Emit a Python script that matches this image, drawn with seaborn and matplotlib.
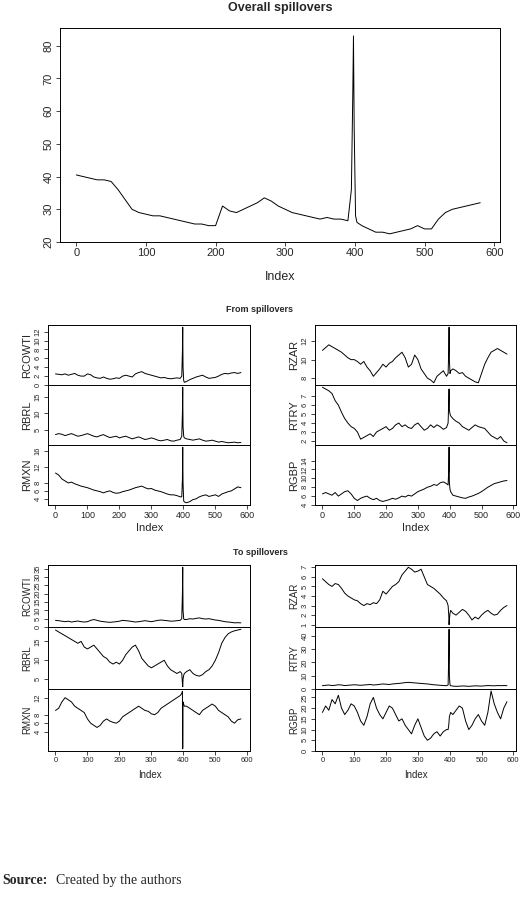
import matplotlib
matplotlib.use("Agg")
import matplotlib.pyplot as plt
import seaborn as sns
import pandas as pd

sns.set_style("white")
plt.rcParams['font.family'] = ['Liberation Sans', 'DejaVu Sans']

X = list(range(0, 400, 10)) + [395, 397, 398, 399, 401, 403] + list(range(410, 590, 10))

overall = [40.5,40,39.5,39,39,38.5,36,33,30,29,28.5,28,28,27.5,27,26.5,26,25.5,25.5,25,25,31,29.5,29,30,31,32,33.5,32.5,31,30,29,28.5,28,27.5,27,27.5,27,27,26.5,
           36,65,83,55,28,26,
           25,24,23,23,22.5,23,23.5,24,25,24,24,27,29,30,30.5,31,31.5,32]

from_rcowti = [2.5,2.4,2.3,2.5,2.2,2.4,2.6,2.2,2,2,2.5,2.3,1.8,1.6,1.5,1.8,1.5,1.3,1.4,1.6,1.5,2,2.2,2,1.8,2.5,2.8,3,2.6,2.4,2.2,2,1.8,1.6,1.7,1.5,1.4,1.5,1.6,1.5,
               2,7.5,13,4,1,0.6,
               0.8,1.2,1.5,1.8,2,2.2,1.8,1.5,1.6,1.7,2,2.4,2.6,2.5,2.7,2.8,2.6,2.8]
from_rbrl = [3.5,3.8,3.6,3.2,3.5,3.8,3.4,3,3.2,3.5,3.8,3.4,3,2.8,3.2,3.5,3,2.6,2.8,3,2.5,2.8,3,2.6,2.2,2.5,2.8,2.4,2,2.2,2.5,2.2,1.8,1.6,1.8,2,1.6,1.5,1.8,2,
             3,10,18,6,3,2.5,
             2.2,2,1.8,2,2.2,1.8,1.5,1.6,1.8,1.5,1.2,1.4,1.2,1,1.1,1.2,1,1.1]
from_rmxn = [10.5,10,9,8.5,8,8.2,7.8,7.5,7.2,7,6.8,6.5,6.2,6,5.8,5.5,5.8,6,5.6,5.4,5.5,5.8,6,6.2,6.5,6.8,7,7.2,6.8,6.5,6.6,6.2,6,5.8,5.5,5.2,5,5,4.8,4.5,
             4.5,9,17,8,3.5,3.2,
             3,3.3,3.8,4,4.5,4.8,5,4.6,4.8,5,4.6,5.2,5.5,5.8,6,6.5,7,6.8]
from_rzar = [11,11.3,11.6,11.4,11.2,11,10.8,10.5,10.2,10,10,9.8,9.5,9.8,9.2,8.8,8.2,8.6,9,9.5,9.2,9.6,9.8,10.2,10.5,10.8,10.2,9.2,9.5,10.5,10,9,8.5,8,7.8,7.5,8.2,8.5,8.8,8.2,
             8.5,11,13.5,10,8.5,8.8,
             9,8.8,8.5,8.6,8.2,8,7.8,7.6,7.5,8.5,9.5,10.2,10.8,11,11.2,11,10.8,10.6]
from_rtry = [8,7.8,7.6,7.3,6.5,6,5.2,4.5,4,3.6,3.4,3,2.2,2.4,2.6,2.8,2.5,3,3.2,3.4,3.6,3.2,3.4,3.8,4,3.6,3.8,3.5,3.4,3.8,4,3.6,3.2,3.4,3.8,3.5,3.8,3.6,3.3,3.5,
             4,6.5,7.8,5.5,5,4.8,
             4.5,4.2,4,3.6,3.4,3.2,3.5,3.8,3.6,3.5,3.4,3,2.6,2.4,2.2,2.5,2,1.8]
from_rgbp = [6.5,6.8,6.5,6.2,6.8,6,6.5,7,7.2,6.5,5.5,5,5.5,5.8,6,5.5,5.2,5.5,5,4.8,5,5.2,5.5,5.3,5.6,6,5.8,6.2,6,6.5,7,7.3,7.6,8,8.2,8.6,8.4,9,9.2,8.8,
             8.5,12,17,9,7.5,7,
             6.2,6,5.8,5.6,5.5,5.8,6,6.3,6.6,7,7.5,8,8.4,8.8,9,9.2,9.4,9.5]

to_rcowti = [4,3.8,3.5,3.2,3.5,3,3.3,3.6,3.2,3,3.2,4,4.5,4,3.5,3.2,3,2.8,3,3.2,3.5,4,3.8,3.6,3.3,3,3.2,3.5,3.8,3.5,3.2,3.6,4,4.2,4,3.8,3.5,3.6,3.8,4,
             5,20,36,10,5,4.5,
             4.5,5,4.8,5.2,5.5,5,4.8,5,4.6,4.2,4,3.6,3.2,3,2.8,2.5,2.6,2.5]
to_rbrl = [18,17.5,17,16.5,16,15.5,15,14.5,15,13.5,13,13.5,14,13,12,11,10.5,9.5,9,9.5,9,10,11.5,12.5,13.5,14,12.5,10.5,9.5,8.5,8,8.5,9,9.5,10,8.5,7.5,7,6.5,7,
           6.5,4,3,5,6,6.5,
           7,7.5,6.5,6,5.8,6.2,7,7.5,8.5,10,12,14.5,16,17,17.5,17.8,18,18.2]
to_rmxn = [9,9.5,11,12,11.5,11,10,9.5,9,8.5,7,6,5.5,5,5.5,6.5,7,6.5,6.2,6,6.5,7.5,8,8.5,9,9.5,10,9.5,9,8.8,8.2,8,8.5,9.5,10,10.5,11,11.5,12,12.5,
           13,13.5,0,11,10.5,10,
           10,9.5,9,8.5,8,9,9.5,10,10.5,10,9,8.5,8,7.5,6.5,6,6.8,7]
to_rzar = [5.8,5.5,5.2,5,5.3,5.2,4.8,4.3,4,3.8,3.6,3.5,3.2,3,3.2,3.1,3.3,3.2,3.6,4.5,4.2,4.6,5,5.2,5.5,6.2,6.6,7,6.8,6.5,6.6,6.8,6,5.2,5,4.8,4.5,4.2,3.8,3.5,
           3,2,1,1.5,2.2,2.5,
           2.2,2,2.3,2.6,2.4,2,1.5,1.8,1.6,2,2.3,2.5,2.2,2,2.1,2.5,2.8,3]
to_rtry = [2.5,2.8,3,2.6,2.8,3.2,3,2.6,2.8,3,3.2,3,2.8,3,3.2,3.4,3,3.2,3.5,3.8,3.6,3.4,3.8,4,4.2,4.5,4.8,5,4.8,4.6,4.4,4.2,4,3.8,3.5,3.2,3,2.8,2.6,2.5,
           3,25,45,10,3,2.5,
           2.2,2,2.1,2.3,2.2,2,2.2,2.4,2.3,2.2,2.4,2.6,2.5,2.4,2.6,2.5,2.6,2.5]
to_rgbp = [18,21,19,24,22,26,20,17,19,22,21,18,14,12,16,22,25,20,17,15,18,21,20,17,14,15,12,10,8,12,15,11,7,5,6,8,9,7,9,10,
           10,12,14,16,17,18,
           17,19,21,20,14,10,12,15,17,14,12,18,28,22,18,15,20,23]

W, H = 520, 905
fig = plt.figure(figsize=(W/100, H/100), dpi=100)

def ax_px(x0, y0, x1, y1):
    return fig.add_axes([x0/W, 1-y1/H, (x1-x0)/W, (y1-y0)/H])

def draw(ax, y, yticks, ylabel=None, show_x=True, fs=6.5, yfs=None):
    yfs = yfs or fs
    df = pd.DataFrame({"Index": X, "v": y})
    sns.lineplot(data=df, x="Index", y="v", ax=ax, color="black", lw=0.7, estimator=None, sort=False)
    ax.set_xlim(-23.4, 608.4)
    lo, hi = min(y), max(y)
    pad = (hi-lo)*0.04
    ax.set_ylim(lo-pad, hi+pad)
    ax.set_yticks(yticks)
    ax.set_yticklabels([str(t) for t in yticks], rotation=90, va="center", fontsize=yfs)
    ax.set_xticks([0,100,200,300,400,500,600])
    ax.tick_params(length=3, width=0.6, direction="out", pad=1.5, left=True, bottom=show_x)
    if show_x:
        ax.set_xticklabels(["0","100","200","300","400","500","600"], fontsize=fs)
    else:
        ax.set_xticklabels([])
    ax.set_xlabel("")
    ax.set_ylabel(ylabel if ylabel else "", fontsize=fs+1.5, labelpad=2)
    for s in ax.spines.values():
        s.set_color("black"); s.set_linewidth(0.7)

# top panel
ax = ax_px(60, 28, 500, 242)
draw(ax, overall, [20,30,40,50,60,70,80], fs=8)
fig.text(280/W, 1-8/H, "Overall spillovers", ha="center", va="center", fontsize=9, fontweight="bold")
fig.text(280/W, 1-277/H, "Index", ha="center", va="center", fontsize=9)

# from
fig.text(260/W, 1-310/H, "From spillovers", ha="center", va="center", fontsize=6.5, fontweight="bold")
L = (48, 250); R = (315, 516)
rows = [(325, 385), (385, 445), (445, 505)]
fl = [(from_rcowti, [0,2,4,6,8,10,12], "RCOWTI"), (from_rbrl, [5,10,15], "RBRL"), (from_rmxn, [4,6,8,12,16], "RMXN")]
fr = [(from_rzar, [8,10,12], "RZAR"), (from_rtry, [2,3,4,5,6,7], "RTRY"), (from_rgbp, [4,6,8,10,12,14], "RGBP")]
for i, ((y0, y1), (s, t, n)) in enumerate(zip(rows, fl)):
    draw(ax_px(L[0], y0, L[1], y1), s, t, n, show_x=(i == 2), yfs=5.5)
for i, ((y0, y1), (s, t, n)) in enumerate(zip(rows, fr)):
    draw(ax_px(R[0], y0, R[1], y1), s, t, n, show_x=(i == 2), yfs=5.5)
fig.text(150/W, 1-528/H, "Index", ha="center", va="center", fontsize=8)
fig.text(416/W, 1-528/H, "Index", ha="center", va="center", fontsize=8)

# to
fig.text(260/W, 1-552/H, "To spillovers", ha="center", va="center", fontsize=6.5, fontweight="bold")
rows = [(565, 627), (627, 689), (689, 751)]
tl = [(to_rcowti, [0,5,10,15,20,25,30,35], "RCOWTI"), (to_rbrl, [5,10,15], "RBRL"), (to_rmxn, [4,6,8,12], "RMXN")]
tr = [(to_rzar, [1,2,3,4,5,6,7], "RZAR"), (to_rtry, [0,10,20,30,40], "RTRY"), (to_rgbp, [0,5,10,15,20,25], "RGBP")]
for i, ((y0, y1), (s, t, n)) in enumerate(zip(rows, tl)):
    draw(ax_px(L[0], y0, L[1], y1), s, t, n, show_x=(i == 2), fs=5.5)
for i, ((y0, y1), (s, t, n)) in enumerate(zip(rows, tr)):
    draw(ax_px(R[0], y0, R[1], y1), s, t, n, show_x=(i == 2), fs=5.5)
fig.text(150/W, 1-775/H, "Index", ha="center", va="center", fontsize=7)
fig.text(416/W, 1-775/H, "Index", ha="center", va="center", fontsize=7)

fig.text(2/W, 1-880/H, "Source:", ha="left", va="center", fontsize=10, fontweight="bold", family="Liberation Serif")
fig.text(56/W, 1-880/H, "Created by the authors", ha="left", va="center", fontsize=10, family="Liberation Serif")

fig.savefig("out.png", dpi=100)
